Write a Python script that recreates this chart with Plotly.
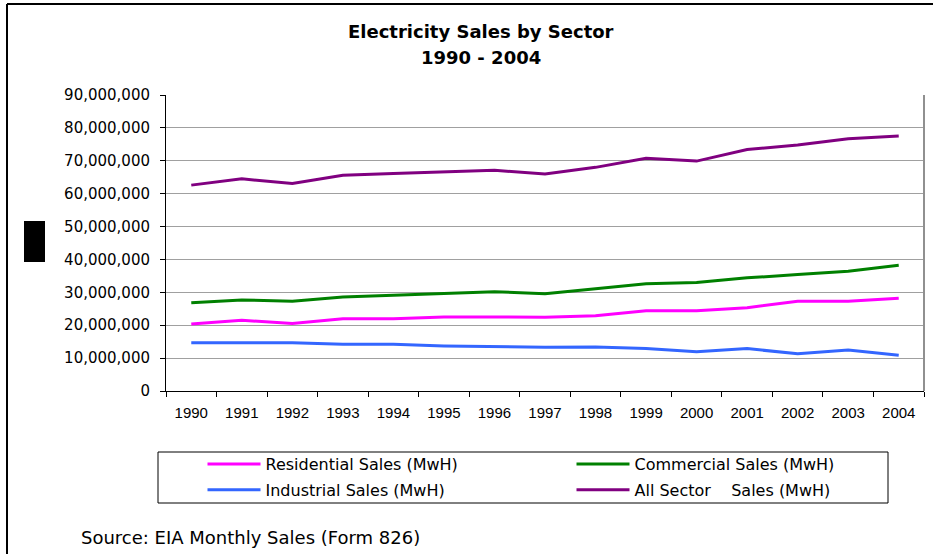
import plotly.graph_objects as go

years = [str(y) for y in range(1990, 2005)]
residential = [20.4, 21.5, 20.5, 22.0, 22.0, 22.5, 22.5, 22.4, 22.9, 24.4, 24.4, 25.3, 27.3, 27.3, 28.2]
commercial = [26.8, 27.7, 27.3, 28.6, 29.1, 29.6, 30.2, 29.6, 31.0, 32.6, 33.0, 34.4, 35.4, 36.4, 38.2]
industrial = [14.7, 14.7, 14.7, 14.2, 14.2, 13.7, 13.4, 13.3, 13.4, 12.9, 11.9, 12.9, 11.3, 12.5, 10.9]
all_sector = [62.6, 64.5, 63.1, 65.6, 66.1, 66.6, 67.1, 66.0, 68.0, 70.8, 69.9, 73.4, 74.8, 76.7, 77.5]
series_names = ["Residential Sales (MwH)", "Commercial Sales (MwH)",
                "Industrial Sales (MwH)", "All Sector    Sales (MwH)"]
series_colors = ["#FF00FF", "#008000", "#3366FF", "#800080"]
series_legends = ["legend", "legend2", "legend", "legend2"]
y_ticks = [i * 10_000_000 for i in range(10)]

W, H = 933, 554
L, R, T, B = 166, 9, 95, 163
PW, PH = W - L - R, H - T - B


def px(x):
    return (x - L) / PW


def py(y):
    return (H - B - y) / PH


fig = go.Figure()
for name, vals, col, lg in zip(series_names, [residential, commercial, industrial, all_sector],
                               series_colors, series_legends):
    fig.add_trace(go.Scatter(
        x=years, y=[v * 1_000_000 for v in vals], name=name, mode="lines",
        line=dict(color=col, width=3), legend=lg, legendgroup=name,
    ))

legend_common = dict(
    orientation="v", xref="paper", yref="paper",
    xanchor="left", yanchor="top", itemwidth=53, tracegroupgap=2,
    font=dict(family="DejaVu Sans", size=16, color="black"),
    bgcolor="rgba(0,0,0,0)", borderwidth=0, traceorder="grouped",
)

fig.update_layout(
    width=W, height=H,
    margin=dict(l=L, r=R, t=T, b=B, autoexpand=False),
    paper_bgcolor="white", plot_bgcolor="white",
    font=dict(family="DejaVu Sans", color="black"),
    showlegend=True,
    legend=dict(x=px(202.5), y=py(447), **legend_common),
    legend2=dict(x=px(571.5), y=py(447), **legend_common),
    xaxis=dict(
        type="category", tickson="boundaries", showgrid=False,
        showline=True, linecolor="black", linewidth=1,
        ticks="outside", ticklen=5, tickcolor="black", tickangle=0,
        tickfont=dict(family="Liberation Sans", size=15, color="black"),
        ticklabelstandoff=8, range=[-0.5, 14.5],
    ),
    yaxis=dict(
        range=[0, 90_000_000], tickvals=y_ticks, tickformat=",d",
        showgrid=True, gridcolor="#a0a0a0", gridwidth=1,
        showline=True, linecolor="black", linewidth=1,
        ticks="outside", ticklen=5, tickcolor="black",
        tickfont=dict(family="DejaVu Sans", size=15, color="black"),
        ticklabelstandoff=7, zeroline=False,
    ),
    shapes=[
        dict(type="line", xref="paper", yref="paper", x0=1, x1=1, y0=0, y1=1,
             line=dict(color="#909090", width=2)),
        dict(type="rect", xref="paper", yref="paper", x0=px(158), x1=px(888),
             y0=py(503), y1=py(452), line=dict(color="black", width=1)),
        dict(type="line", xref="paper", yref="paper", x0=px(7), x1=px(940),
             y0=py(4), y1=py(4), line=dict(color="black", width=2)),
        dict(type="line", xref="paper", yref="paper", x0=px(7), x1=px(7),
             y0=py(4), y1=py(560), line=dict(color="black", width=2)),
        dict(type="rect", xref="paper", yref="paper", x0=px(24), x1=px(45),
             y0=py(262), y1=py(221), fillcolor="black", line=dict(width=0)),
    ],
    annotations=[
        dict(text="<b>Electricity Sales by Sector</b>", xref="paper", yref="paper",
             x=px(481), y=py(32), xanchor="center", yanchor="middle", showarrow=False,
             font=dict(family="DejaVu Sans", size=18, color="black")),
        dict(text="<b>1990 - 2004</b>", xref="paper", yref="paper",
             x=px(481), y=py(57), xanchor="center", yanchor="middle", showarrow=False,
             font=dict(family="DejaVu Sans", size=18, color="black")),
        dict(text="Source: EIA Monthly Sales (Form 826)", xref="paper", yref="paper",
             x=px(79), y=py(537), xanchor="left", yanchor="middle", showarrow=False,
             font=dict(family="DejaVu Sans", size=18, color="black")),
    ],
)

fig.write_html("out.html", config={"displayModeBar": False},
               post_script="document.body.style.margin='0';")
